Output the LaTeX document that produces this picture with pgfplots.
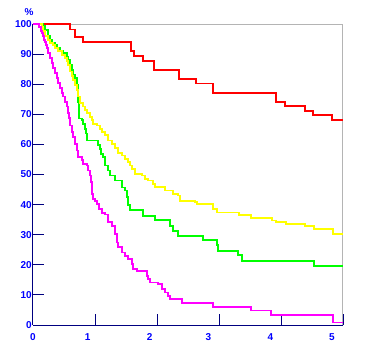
\documentclass[border=0pt]{standalone}
\usepackage{fontspec}
\setmainfont{Liberation Sans}
\usepackage{pgfplots}
\pgfplotsset{compat=1.18}
\definecolor{navy}{RGB}{0,0,128}
\definecolor{lblue}{RGB}{0,0,255}
\definecolor{bgray}{RGB}{180,180,180}
\definecolor{cyel}{RGB}{255,255,0}
\definecolor{cgrn}{RGB}{0,255,0}
\definecolor{cmag}{RGB}{255,0,255}
\definecolor{cred}{RGB}{255,0,0}
\begin{document}
\begin{tikzpicture}
\useasboundingbox (0,0) rectangle (365pt,357pt);
\begin{axis}[
  at={(33pt,32pt)}, anchor=south west,
  scale only axis, width=310pt, height=301pt,
  xmin=0, xmax=5, ymin=0, ymax=100,
  axis x line*=bottom, axis y line*=left,
  axis line style={-, navy, line width=1pt},
  tick align=inside,
  tick style={navy, line width=0.9pt},
  major tick length=11pt,
  xtick={1,2,3,4,5}, xticklabels={,,,,},
  extra x ticks={0,0.88,1.88,2.83,3.83,4.82},
  extra x tick labels={0,1,2,3,4,5},
  extra x tick style={major tick length=0pt},
  ytick={10,20,...,90},
  extra y ticks={0,100},
  extra y tick style={major tick length=0pt},
  /pgf/number format/assume math mode=true,
  ticklabel style={font=\fontsize{10}{11}\selectfont\bfseries, text=lblue, inner sep=0pt},
  yticklabel style={xshift=-1pt},
  xticklabel style={yshift=-8pt},
  clip=false,
]
\draw[bgray, line width=1pt] (axis cs:0,100) -- (axis cs:5,100) -- (axis cs:5,0);
% red
\addplot[const plot, cred, line width=1.8pt] coordinates {
(0,100) (0.597,98.2) (0.677,95.8) (0.802,94.1) (1.581,91.0) (1.629,89.4)
(1.769,87.8) (1.956,84.8) (2.350,81.7) (2.629,80.2) (2.908,77.1) (3.915,74.0)
(4.065,72.8) (4.387,71.1) (4.521,69.7) (4.827,68.2) (5.0,68.2)};
% green
\addplot[const plot, cgrn, line width=1.8pt] coordinates {
(0,100) (0.166,99.3) (0.194,98.1) (0.247,95.9) (0.274,94.8) (0.302,93.7)
(0.355,93.1) (0.382,92.0) (0.435,90.9) (0.489,90.3) (0.544,89.2) (0.569,88.1)
(0.597,86.4) (0.624,84.8) (0.650,83.1) (0.677,82.0) (0.705,79.8) (0.721,76.4)
(0.731,74.2) (0.742,72.0) (0.747,68.6) (0.785,68.0) (0.811,66.9) (0.839,65.2)
(0.855,63.6) (0.866,61.3) (1.053,59.7) (1.081,58.6) (1.097,56.9) (1.124,55.8)
(1.161,53.0) (1.215,51.3) (1.242,49.7) (1.323,48.0) (1.431,45.7) (1.484,44.7)
(1.511,42.4) (1.537,40.0) (1.565,38.2) (1.779,36.3) (1.968,34.8) (2.210,33.0)
(2.263,31.3) (2.344,29.5) (2.747,28.2) (2.963,26.7) (2.989,24.7) (3.311,23.2)
(3.376,21.3) (4.532,19.7) (5.0,19.7)};
% yellow
\addplot[const plot, cyel, line width=1.8pt] coordinates {
(0,100) (0.140,99.2) (0.166,97.6) (0.194,95.9) (0.247,94.8) (0.274,93.7)
(0.327,93.1) (0.355,92.0) (0.408,90.9) (0.463,89.8) (0.516,88.7) (0.544,87.6)
(0.569,86.4) (0.597,84.2) (0.624,82.6) (0.650,81.4) (0.677,79.8) (0.705,78.1)
(0.731,75.9) (0.758,73.7) (0.811,72.6) (0.839,71.4) (0.866,70.3) (0.919,69.1)
(0.947,68.0) (0.973,66.9) (1.027,66.3) (1.081,65.2) (1.108,64.1) (1.161,63.0)
(1.215,61.3) (1.269,60.2) (1.323,58.8) (1.376,57.2) (1.431,56.3) (1.484,55.2)
(1.537,54.1) (1.565,53.0) (1.592,51.7) (1.645,50.2) (1.753,49.7) (1.806,48.6)
(1.860,48.0) (1.940,46.9) (1.968,45.8) (2.129,44.7) (2.263,43.6) (2.344,43.0)
(2.371,41.3) (2.613,40.8) (2.640,40.2) (2.908,38.6) (2.963,37.4) (3.324,36.6)
(3.511,35.6) (3.850,34.7) (3.919,34.1) (4.081,33.6) (4.387,32.8) (4.532,32.0)
(4.834,30.2) (5.0,30.2)};
% magenta
\addplot[const plot, cmag, line width=1.8pt] coordinates {
(0,100) (0.102,98.9) (0.124,97.8) (0.140,97.0) (0.156,95.9) (0.177,94.8)
(0.194,94.0) (0.210,93.0) (0.221,92.0) (0.247,90.3) (0.274,88.7) (0.302,87.0)
(0.327,85.3) (0.355,83.7) (0.382,82.0) (0.408,80.3) (0.435,78.7) (0.463,77.0)
(0.489,75.9) (0.516,74.2) (0.544,72.6) (0.569,70.3) (0.585,68.7) (0.597,66.3)
(0.624,64.1) (0.650,62.4) (0.677,60.2) (0.705,58.0) (0.731,55.8) (0.785,54.7)
(0.811,53.6) (0.866,53.0) (0.892,51.3) (0.919,49.7) (0.935,47.4) (0.947,43.6)
(0.963,41.9) (1.000,41.3) (1.027,40.2) (1.069,38.6) (1.108,37.3) (1.161,36.7)
(1.215,34.1) (1.269,33.0) (1.323,30.2) (1.350,27.4) (1.376,25.8) (1.431,24.1)
(1.484,23.0) (1.537,21.9) (1.592,20.2) (1.618,18.6) (1.673,18.0) (1.834,16.3)
(1.860,15.2) (1.887,14.1) (2.021,13.6) (2.076,11.9) (2.129,10.8) (2.182,9.7)
(2.210,8.6) (2.398,7.2) (2.898,6.1) (3.511,4.8) (3.834,3.4) (4.834,0.8) (5.0,0.8)};
\node[font=\fontsize{10}{11}\selectfont\bfseries, text=lblue, inner sep=0pt, xshift=-4pt, yshift=11.5pt] at (rel axis cs:0,1) {\%};
\end{axis}
\end{tikzpicture}
\end{document}
